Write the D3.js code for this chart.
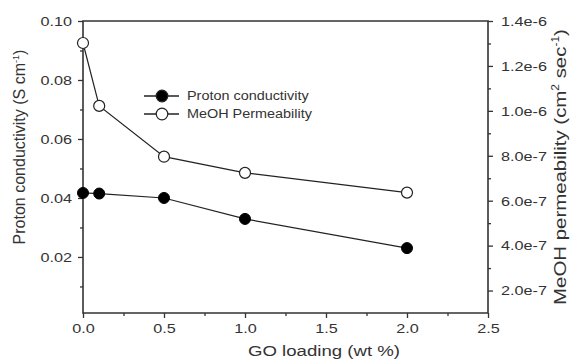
<!DOCTYPE html>
<html>
<head>
<meta charset="utf-8">
<script src="https://cdn.jsdelivr.net/npm/d3@7"></script>
<style>
  body { margin: 0; background: #fff; }
  svg text { font-family: "Liberation Sans", Arial, sans-serif; fill: #333; }
</style>
</head>
<body>
<div id="chart"></div>
<script>
// GO loading (wt %)
var loading = [0, 0.1, 0.5, 1.0, 2.0];
// Proton conductivity (S cm-1), left axis
var conductivity = [0.0417, 0.0415, 0.0400, 0.0329, 0.0230];
// MeOH permeability (cm2 sec-1), right axis
var permeability = [1.302e-6, 1.022e-6, 7.96e-7, 7.24e-7, 6.36e-7];

var xTicks = [0, 0.5, 1.0, 1.5, 2.0, 2.5];
var yTicks = [0.02, 0.04, 0.06, 0.08, 0.10];
var y2Ticks = [2e-7, 4e-7, 6e-7, 8e-7, 1.0e-6, 1.2e-6, 1.4e-6];

(function(){
    var w = 572, h = 360,
        plotL = 83, plotR = 488, plotT = 21, plotB = 313,
        stretch = 1.2; // the type in the original is a bit wide

    var svg = d3.select('#chart').append('svg')
        .attr('width', w)
        .attr('height', h);

    var x = d3.scaleLinear().domain([0, 2.5]).range([plotL, plotR]);
    var y = d3.scaleLinear().domain([0.001, 0.1]).range([plotB, plotT]);
    var y2 = d3.scaleLinear().domain([1e-7, 1.4e-6]).range([plotB, plotT]);

    var ink = '#333';

    var widen = function(sel, k){
        sel.each(function(){
            var len = this.getComputedTextLength();
            d3.select(this)
                .attr('textLength', len * k)
                .attr('lengthAdjust', 'spacingAndGlyphs');
        });
    };

    // minor ticks first, drawn as axes with no labels
    svg.append('g')
        .attr('transform', 'translate(0,' + plotB + ')')
        .call(d3.axisBottom(x).tickValues(d3.range(0.25, 2.5, 0.5)).tickSize(3).tickFormat(''));
    svg.append('g')
        .attr('transform', 'translate(' + plotL + ',0)')
        .call(d3.axisLeft(y).tickValues([0.01, 0.03, 0.05, 0.07, 0.09]).tickSize(3).tickFormat(''));
    svg.append('g')
        .attr('transform', 'translate(' + plotR + ',0)')
        .call(d3.axisRight(y2).tickValues([3e-7, 5e-7, 7e-7, 9e-7, 1.1e-6, 1.3e-6]).tickSize(3).tickFormat(''));

    svg.append('g')
        .attr('transform', 'translate(0,' + plotB + ')')
        .call(d3.axisBottom(x).tickValues(xTicks).tickSize(5).tickPadding(5).tickFormat(d3.format('.1f')));
    svg.append('g')
        .attr('transform', 'translate(' + plotL + ',0)')
        .call(d3.axisLeft(y).tickValues(yTicks).tickSize(5).tickPadding(6).tickFormat(d3.format('.2f')));
    svg.append('g')
        .attr('transform', 'translate(' + plotR + ',0)')
        .call(d3.axisRight(y2).tickValues(y2Ticks).tickSize(5).tickPadding(8)
            .tickFormat(function(d){ return d.toExponential(1).replace('+', ''); }));

    svg.selectAll('.domain').remove();
    svg.selectAll('.tick line').attr('stroke', ink).attr('stroke-width', 1.3);
    svg.selectAll('.tick text').style('font-size', '13.5px').attr('fill', ink)
        .call(widen, stretch);

    // frame: left, bottom, right, top
    svg.append('path')
        .attr('d', 'M' + plotL + ',' + plotT + 'V' + plotB + 'H' + plotR + 'V' + plotT + 'Z')
        .attr('fill', 'none')
        .attr('stroke', ink)
        .attr('stroke-width', 1.6);

    var conductivityPts = loading.map(function(d, i){ return [x(d), y(conductivity[i])]; });
    var permeabilityPts = loading.map(function(d, i){ return [x(d), y2(permeability[i])]; });

    var line = d3.line();
    svg.append('path').attr('d', line(conductivityPts))
        .attr('fill', 'none').attr('stroke', '#222').attr('stroke-width', 1.2);
    svg.append('path').attr('d', line(permeabilityPts))
        .attr('fill', 'none').attr('stroke', '#222').attr('stroke-width', 1.2);

    svg.selectAll('circle.cond')
        .data(conductivityPts)
        .enter().append('circle')
        .attr('class', 'cond')
        .attr('cx', function(d){ return d[0]; })
        .attr('cy', function(d){ return d[1]; })
        .attr('r', 5.5)
        .attr('fill', '#000')
        .attr('stroke', '#000')
        .attr('stroke-width', 1);

    svg.selectAll('circle.perm')
        .data(permeabilityPts)
        .enter().append('circle')
        .attr('class', 'perm')
        .attr('cx', function(d){ return d[0]; })
        .attr('cy', function(d){ return d[1]; })
        .attr('r', 5.5)
        .attr('fill', '#fff')
        .attr('stroke', '#222')
        .attr('stroke-width', 1.2);

    // legend
    var legend = [
        { label: 'Proton conductivity', fill: '#000' },
        { label: 'MeOH Permeability', fill: '#fff' }
    ];
    var lg = svg.selectAll('g.legend')
        .data(legend)
        .enter().append('g')
        .attr('class', 'legend')
        .attr('transform', function(d, i){ return 'translate(162,' + (96 + i * 18) + ')'; });
    lg.append('line')
        .attr('x1', -18).attr('x2', 17)
        .attr('stroke', '#222').attr('stroke-width', 1.3);
    lg.append('circle')
        .attr('r', 5.8)
        .attr('fill', function(d){ return d.fill; })
        .attr('stroke', '#222').attr('stroke-width', 1.2);
    lg.append('text')
        .attr('x', 25).attr('dy', '0.36em')
        .style('font-size', '12px')
        .text(function(d){ return d.label; })
        .call(widen, stretch);

    // axis titles
    svg.append('text')
        .attr('x', 248)
        .attr('y', 356)
        .style('font-size', '15.5px')
        .text('GO loading (wt %)')
        .call(widen, stretch);

    var yt = svg.append('text')
        .attr('transform', 'translate(25,147) rotate(-90)')
        .attr('text-anchor', 'middle')
        .style('font-size', '16px');
    yt.append('tspan').text('Proton conductivity (S cm');
    yt.append('tspan').attr('dy', -6).style('font-size', '9px').text('-1');
    yt.append('tspan').attr('dy', 6).text(')');

    var y2t = svg.append('text')
        .attr('transform', 'translate(566,167) rotate(-90)')
        .attr('text-anchor', 'middle')
        .style('font-size', '17px');
    y2t.append('tspan').text('MeOH permeability (cm');
    y2t.append('tspan').attr('dy', -7).style('font-size', '10px').text('2');
    y2t.append('tspan').attr('dy', 7).text(' sec');
    y2t.append('tspan').attr('dy', -7).style('font-size', '10px').text('-1');
    y2t.append('tspan').attr('dy', 7).text(')');
    y2t.call(widen, 1.2);
})();
</script>
</body>
</html>
